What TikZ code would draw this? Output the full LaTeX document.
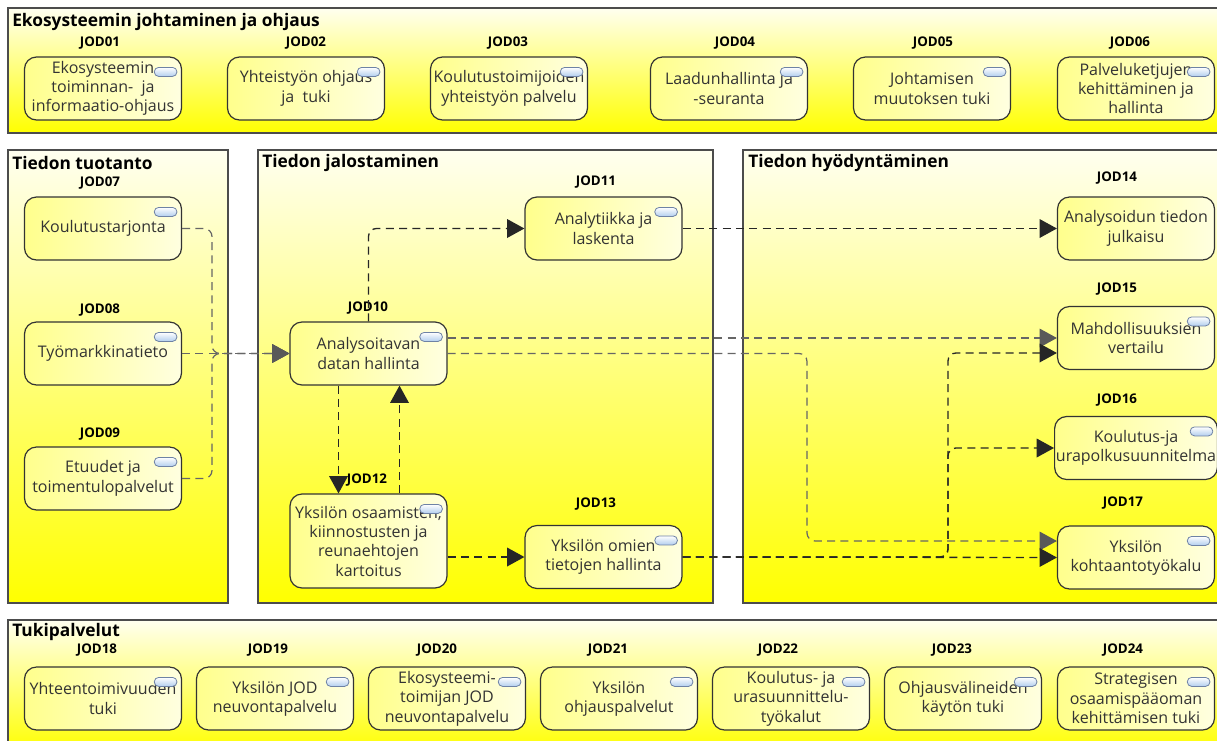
\documentclass[tikz,border=0pt]{standalone}
\usepackage{fontspec}
\setmainfont{Open Sans}
\usetikzlibrary{positioning,calc,arrows.meta}

\definecolor{pillblue}{RGB}{178,206,238}
\definecolor{pilledge}{RGB}{110,130,165}

\tikzset{
  frame/.style={draw=black!70, line width=1.1pt, top color=yellow!6, bottom color=yellow},
  ftitle/.style={anchor=west, inner sep=0pt, font=\fontsize{13}{15}\selectfont\bfseries},
  svc/.style={draw=black!80, line width=0.9pt, rounded corners=9pt,
    left color=yellow!45, right color=yellow!12, text=black!80,
    minimum width=117.75pt, minimum height=47.25pt, align=center, inner sep=1pt,
    font=\fontsize{12}{14.5}\selectfont},
  pill/.style={draw=pilledge, line width=0.6pt, rounded corners=3.3pt,
    top color=white, bottom color=pillblue, minimum width=17pt, minimum height=6.75pt, inner sep=0pt},
  jod/.style={inner sep=0pt, font=\fontsize{10}{12}\selectfont\bfseries},
  flow/.style={draw=black!85, line width=1pt, dash pattern=on 6pt off 4pt, rounded corners=6pt,
    -{Triangle[length=13pt,width=14pt]}},
  flowgray/.style={draw=black!60, line width=0.9pt, dash pattern=on 6pt off 4pt, rounded corners=6pt,
    -{Triangle[length=13pt,width=14pt,fill=black!65,color=black!65]}}
}

\begin{document}
\begin{tikzpicture}[x=0.75pt,y=-0.75pt]
    \useasboundingbox (0,0) rectangle (1217,740);
    \clip (0,0) rectangle (1217,740);

    % Frames
    \draw[frame] (8,8) rectangle (1226,133);
    \draw[frame] (8,150) rectangle (228,603);
    \draw[frame] (258,150) rectangle (713,603);
    \draw[frame] (743,150) rectangle (1226,603);
    \draw[frame] (8,620) rectangle (1226,752);

    \node[ftitle] (t1) at (12,22) {Ekosysteemin johtaminen ja ohjaus};
    \node[ftitle] (t2) at (12,163) {Tiedon tuotanto};
    \node[ftitle] (t3) at (262,163) {Tiedon jalostaminen};
    \node[ftitle] (t4) at (748,163) {Tiedon hyödyntäminen};
    \node[ftitle] (t5) at (12,632) {Tukipalvelut};

    % Top band
    \foreach \n/\x/\lx/\txt in {
        01/103/100/{Ekosysteemin\\toiminnan-\ \ ja\\informaatio-ohjaus},
        02/306/306/{Yhteistyön ohjaus\\ja\ \ tuki},
        03/509/508/{Koulutustoimijoiden\\yhteistyön palvelu},
        04/729/735/{Laadunhallinta ja\\-seuranta},
        05/932/933/{Johtamisen\\muutoksen tuki},
        06/1136/1130/{Palveluketjujen\\kehittäminen ja\\hallinta}}
    {
        \node[svc] (j\n) at (\x,88.5) {\txt};
        \node[pill] (i\n) at ($(j\n.north east)+(-16.5,15.5)$) {};
        \node[jod] (l\n) at (\lx,43) {JOD\n};
    }

    % Bottom band
    \foreach \n/\x/\lx/\txt in {
        18/103/97/{Yhteentoimivuuden\\tuki},
        19/275/268/{Yksilön JOD\\neuvontapalvelu},
        20/447/437/{Ekosysteemi-\\toimijan JOD\\neuvontapalvelu},
        21/619/608/{Yksilön\\ohjauspalvelut},
        22/791/778/{Koulutus- ja\\urasuunnittelu-\\työkalut},
        23/963/952/{Ohjausvälineiden\\käytön tuki},
        24/1136/1123/{Strategisen\\osaamispääoman\\kehittämisen tuki}}
    {
        \node[svc] (j\n) at (\x,698.5) {\txt};
        \node[pill] (i\n) at ($(j\n.north east)+(-16.5,15.5)$) {};
        \node[jod] (l\n) at (\lx,650) {JOD\n};
    }

    % Tiedon tuotanto
    \node[svc] (j07) at (103,228.5) {Koulutustarjonta};
    \node[svc] (j08) at (103,353.5) {Työmarkkinatieto};
    \node[svc] (j09) at (103,478.5) {Etuudet ja\\toimentulopalvelut};
    \node[jod] (l07) at (100,183) {JOD07};
    \node[jod] (l08) at (100,310) {JOD08};
    \node[jod] (l09) at (100,434) {JOD09};

    % Tiedon jalostaminen
    \node[svc] (j10) at (368.5,353.5) {Analysoitavan\\datan hallinta};
    \node[svc] (j11) at (603.5,228.5) {Analytiikka ja\\laskenta};
    \node[svc, minimum height=70.5pt] (j12) at (368.5,541) {Yksilön osaamisten,\\kiinnostusten ja\\reunaehtojen\\kartoitus};
    \node[svc] (j13) at (603.5,557) {Yksilön omien\\tietojen hallinta};
    \node[jod] (l10) at (368,308) {JOD10};
    \node[jod] (l11) at (596,182) {JOD11};
    \node[jod] (l12) at (367,480) {JOD12};
    \node[jod] (l13) at (596,504) {JOD13};

    % Tiedon hyodyntaminen
    \node[svc] (j14) at (1136,228.5) {Analysoidun tiedon\\julkaisu};
    \node[svc] (j15) at (1136,338) {Mahdollisuuksien\\vertailu};
    \node[svc] (j16) at (1136,448) {Koulutus-ja\\urapolkusuunnitelma};
    \node[svc] (j17) at (1136,557.5) {Yksilön\\kohtaantotyökalu};
    \node[jod] (l14) at (1117,178) {JOD14};
    \node[jod] (l15) at (1117,289) {JOD15};
    \node[jod] (l16) at (1117,400) {JOD16};
    \node[jod] (l17) at (1123,503) {JOD17};

    \foreach \n in {07,08,09,10,11,12,13,15,16,17}
        \node[pill] (i\n) at ($(j\n.north east)+(-16.5,15.5)$) {};

    % Flows
    \coordinate (mergeL) at (212,0);
    \coordinate (busA) at (807,0);
    \coordinate (busB) at (948,0);
    \coordinate (j15lo) at ($(j15.west)+(0,15)$);
    \coordinate (j17up) at ($(j17.west)+(0,-16.5)$);

    \draw[flowgray] (j07.east) -- (j07.east -| mergeL) |- (j10.west);
    \draw[flowgray] (j09.east) -- (j09.east -| mergeL) |- (j10.west);
    \draw[flowgray] (j08.east) -- (j10.west);

    \draw[flow] (j10.north) |- (j11.west);
    \draw[flow] ($(j10.south)+(-30,0)$) -- ($(j12.north)+(-30,0)$);
    \draw[flow] ($(j12.north)+(31,0)$) -- ($(j10.south)+(31,0)$);
    \draw[flow] (j12.east |- j13.west) -- (j13.west);

    \draw[flow] (j11.east) -- (j14.west);
    \draw[flowgray] (j15.west -| j10.east) -- (j15.west);
    \draw[flowgray] (j10.east) -- (j10.east -| busA) |- (j17up);
    \draw[flow] (j13.east) -- (j17.west);
    \draw[flow] (j13.east) -- (j13.east -| busB) |- (j15lo);
    \draw[flow] (j13.east) -- (j13.east -| busB) |- (j16.west);
\end{tikzpicture}
\end{document}
